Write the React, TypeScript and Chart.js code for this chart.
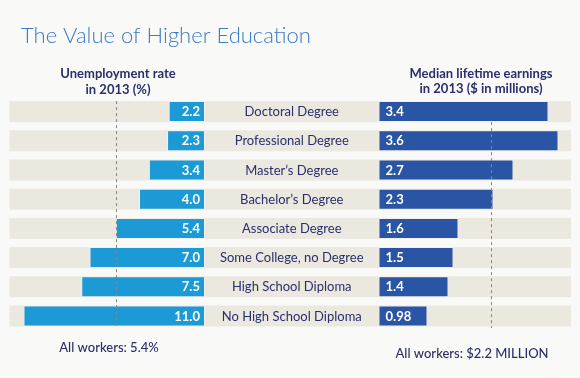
import React, { useEffect, useRef } from "react";
import { Chart, registerables } from "chart.js";

Chart.register(...registerables);

const categories = [
  "Doctoral Degree",
  "Professional Degree",
  "Master’s Degree",
  "Bachelor’s Degree",
  "Associate Degree",
  "Some College, no Degree",
  "High School Diploma",
  "No High School Diploma",
];
const unemployment = [2.2, 2.3, 3.4, 4.0, 5.4, 7.0, 7.5, 11.0];
const earnings = [3.4, 3.6, 2.7, 2.3, 1.6, 1.5, 1.4, 0.98];
const unemploymentLabels = ["2.2", "2.3", "3.4", "4.0", "5.4", "7.0", "7.5", "11.0"];
const earningsLabels = ["3.4", "3.6", "2.7", "2.3", "1.6", "1.5", "1.4", "0.98"];
const unemploymentAll = 5.4;
const earningsRefLine = 2.25;

const title = "The Value of Higher Education";
const leftHeader = ["Unemployment rate", "in 2013 (%)"];
const rightHeader = ["Median lifetime earnings", "in 2013 ($ in millions)"];
const leftFooter = "All workers: 5.4%";
const rightFooter = "All workers: $2.2 MILLION";

const FONT = "Lato, 'Open Sans', sans-serif";
const NAVY = "#2b2f6c";

const decoPlugin = {
  id: "deco",
  beforeDraw(chart: any) {
    const { ctx, width, height } = chart;
    ctx.save();
    ctx.fillStyle = "#f9f9f7";
    ctx.fillRect(0, 0, width, height);
    ctx.restore();
  },
  beforeDatasetsDraw(chart: any) {
    const { ctx, chartArea, scales } = chart;
    const y = scales.y;
    const meta = chart.getDatasetMeta(0);
    ctx.save();
    ctx.fillStyle = "#ebe8df";
    categories.forEach((_, i) => {
      const bar = meta.data[i];
      const h = bar.height;
      const cy = y.getPixelForValue(i);
      ctx.fillRect(chartArea.left, cy - h / 2, chartArea.right - chartArea.left, h);
    });
    ctx.restore();
  },
  afterDatasetsDraw(chart: any) {
    const { ctx, scales } = chart;
    const { xL, xR, y } = scales;
    const meta = chart.getDatasetMeta(0);
    const h = meta.data[0].height;
    const firstTop = y.getPixelForValue(0) - h / 2;
    const firstBottom = y.getPixelForValue(0) + h / 2;
    const lastBottom = y.getPixelForValue(categories.length - 1) + h / 2 + 1.5;
    ctx.save();

    // dashed reference lines
    ctx.strokeStyle = "#858585";
    ctx.lineWidth = 1;
    ctx.setLineDash([3, 3]);
    const lx = Math.round(xL.getPixelForValue(unemploymentAll)) + 0.5;
    ctx.beginPath();
    ctx.moveTo(lx, firstTop);
    ctx.lineTo(lx, lastBottom);
    ctx.stroke();
    const rx = Math.round(xR.getPixelForValue(earningsRefLine)) + 0.5;
    ctx.beginPath();
    ctx.moveTo(rx, firstBottom);
    ctx.lineTo(rx, lastBottom);
    ctx.stroke();
    ctx.setLineDash([]);

    const left0 = xL.getPixelForValue(0);
    const right0 = xR.getPixelForValue(0);
    const mid = (left0 + right0) / 2;

    ctx.textBaseline = "middle";
    categories.forEach((cat, i) => {
      const cy = y.getPixelForValue(i) + 0.5;
      ctx.fillStyle = "#ffffff";
      ctx.font = `bold 13px ${FONT}`;
      ctx.textAlign = "right";
      ctx.fillText(unemploymentLabels[i], left0 - 5, cy);
      ctx.textAlign = "left";
      ctx.fillText(earningsLabels[i], right0 + 7, cy);
      ctx.fillStyle = NAVY;
      ctx.font = `13px ${FONT}`;
      ctx.textAlign = "center";
      ctx.fillText(cat, mid, cy);
    });

    // headers
    ctx.textBaseline = "alphabetic";
    ctx.textAlign = "center";
    ctx.fillStyle = NAVY;
    ctx.font = `bold 13px ${FONT}`;
    ctx.fillText(leftHeader[0], 118, 78);
    ctx.fillText(leftHeader[1], 118, 93.5);
    ctx.fillText(rightHeader[0], 481, 78);
    ctx.fillText(rightHeader[1], 481, 93);

    // footers
    ctx.font = `500 13px ${FONT}`;
    ctx.fillText(leftFooter, 109, 352);
    ctx.fillText(rightFooter, 472, 358);

    // title
    ctx.textAlign = "left";
    ctx.fillStyle = "#3b7ac6";
    ctx.font = `300 22px ${FONT}`;
    ctx.fillText(title, 21, 43);

    ctx.restore();
  },
};

export default function App() {
  const ref = useRef<HTMLCanvasElement | null>(null);
  useEffect(() => {
    if (!ref.current) return;
    const chart = new Chart(ref.current, {
      type: "bar",
      data: {
        labels: categories,
        datasets: [
          {
            data: unemployment,
            xAxisID: "xL",
            yAxisID: "y",
            backgroundColor: "#1b9ad6",
            borderColor: "rgba(255,255,255,0.3)",
            borderWidth: 1,
            borderSkipped: false,
            grouped: false,
          } as any,
          {
            data: earnings,
            xAxisID: "xR",
            yAxisID: "y",
            backgroundColor: "#2a55a4",
            borderColor: "rgba(255,255,255,0.3)",
            borderWidth: 1,
            borderSkipped: false,
            grouped: false,
          } as any,
        ],
      },
      options: {
        indexAxis: "y",
        responsive: false,
        animation: false,
        devicePixelRatio: 1,
        layout: { padding: { left: 9.5, right: 9, top: 97, bottom: 47.4 } },
        datasets: { bar: { barPercentage: 0.72, categoryPercentage: 1 } },
        scales: {
          xL: {
            type: "linear",
            position: "bottom",
            stack: "row",
            stackWeight: 195.5,
            min: 0,
            max: 11.85,
            reverse: true,
            display: false,
          },
          xG: {
            type: "linear",
            position: "bottom",
            stack: "row",
            stackWeight: 173.5,
            min: 0,
            max: 1,
            display: false,
          },
          xR: {
            type: "linear",
            position: "bottom",
            stack: "row",
            stackWeight: 192.5,
            min: 0,
            max: 3.85,
            display: false,
          },
          y: { type: "category", display: false, offset: true },
        },
        plugins: {
          legend: { display: false },
          tooltip: { enabled: false },
          title: { display: false },
        },
      } as any,
      plugins: [decoPlugin],
    });
    return () => chart.destroy();
  }, []);
  return (
    <div style={{ position: "absolute", left: 0, top: 0, width: 580, height: 378 }}>
      <canvas ref={ref} width={580} height={378} style={{ width: 580, height: 378, display: "block" }} />
    </div>
  );
}
